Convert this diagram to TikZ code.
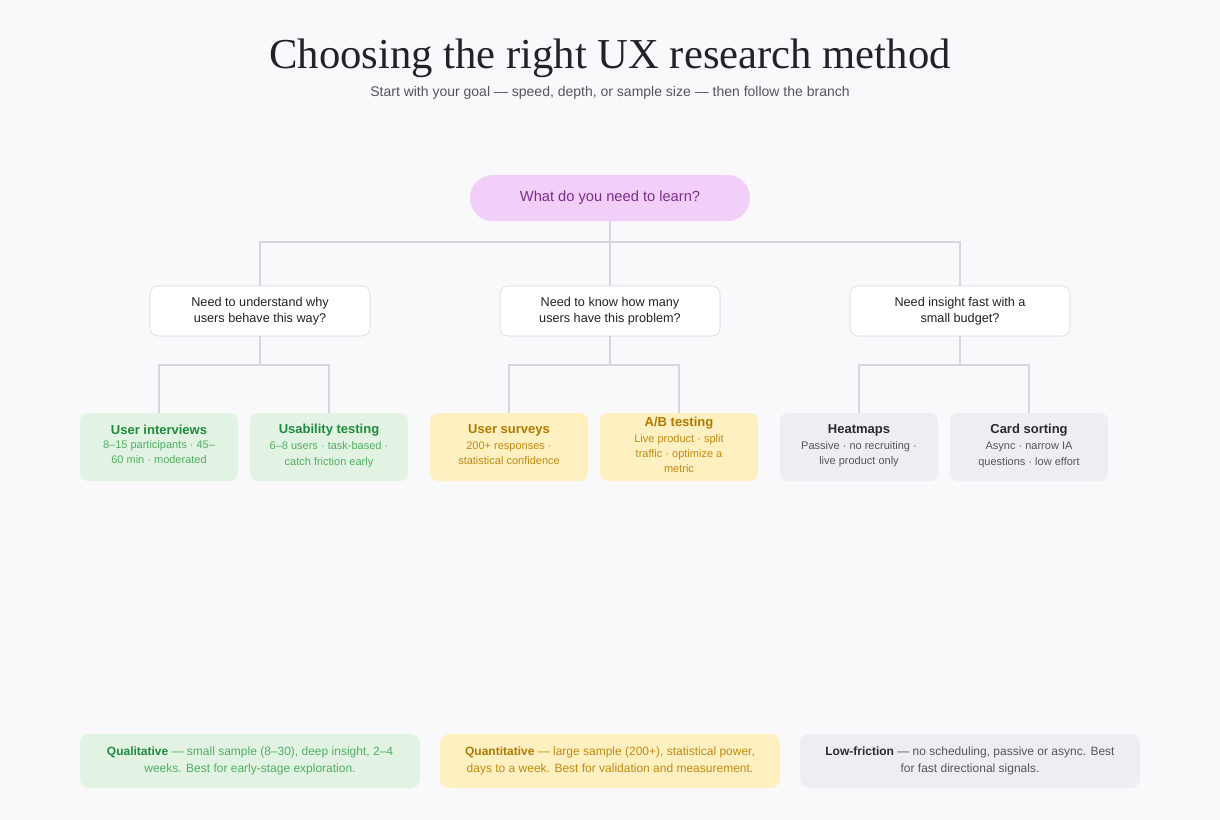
\documentclass[tikz,border=0pt]{standalone}
\usepackage{fontspec}
\setmainfont{Liberation Sans}
\newfontfamily\titlefont{Liberation Serif}
\begin{document}
\begin{tikzpicture}[x=0.75pt,y=-0.75pt,
  line/.style={draw=lineC,line width=1.2pt},
  q/.style={draw=qB,fill=white,rounded corners=6pt,minimum width=165pt,minimum height=37.5pt,align=center,font=\fontsize{9.5}{12}\selectfont,text=txt},
  leaf/.style={rounded corners=6pt,minimum width=118.5pt,minimum height=51pt,align=center,inner sep=0pt},
  leg/.style={rounded corners=7pt,minimum width=255pt,minimum height=40.5pt,align=center,inner sep=0pt,font=\fontsize{9}{12.5}\selectfont}]
\definecolor{bg}{HTML}{F9F9FB}
\definecolor{lineC}{HTML}{D6D6DE}
\definecolor{qB}{HTML}{D6D6DE}
\definecolor{txt}{HTML}{222228}
\definecolor{gF}{HTML}{E3F3E3}\definecolor{gT}{HTML}{1F8A3E}\definecolor{gS}{HTML}{4FAE63}
\definecolor{yF}{HTML}{FFF0C2}\definecolor{yT}{HTML}{B07A00}\definecolor{yS}{HTML}{C08A10}
\definecolor{kF}{HTML}{EEEDF1}\definecolor{kT}{HTML}{2A2A30}\definecolor{kS}{HTML}{55555D}
\definecolor{rF}{HTML}{F1CFF8}\definecolor{rT}{HTML}{7B2D8E}
\fill[bg] (0,0) rectangle (1220,820);
\node[font=\titlefont\fontsize{32}{36}\selectfont,text=txt] (title) at (610,58) {Choosing the right UX research method};
\node[font=\fontsize{10.5}{13}\selectfont,text=kS] (sub) at (610,93) {Start with your goal — speed, depth, or sample size — then follow the branch};
\node[fill=rF,rounded corners=17pt,minimum width=210pt,minimum height=34.5pt,text=rT,font=\fontsize{11}{13}\selectfont] (root) at (610,198) {What do you need to learn?};
\node[q] (q1) at (260,311) {Need to understand why\\users behave this way?};
\node[q] (q2) at (610,311) {Need to know how many\\users have this problem?};
\node[q] (q3) at (960,311) {Need insight fast with a\\small budget?};
\newcommand{\lf}[7]{\node[leaf,fill=#4] (#1) at (#2,447) {{\color{#5}\fontsize{9.75}{13}\selectfont\bfseries #3}\\[1pt]{\color{#6}\fontsize{8.25}{11.5}\selectfont\begin{tabular}{@{}c@{}}#7\end{tabular}}};}
\lf{l1}{159}{User interviews}{gF}{gT}{gS}{8–15 participants · 45–\\60 min · moderated}
\lf{l2}{329}{Usability testing}{gF}{gT}{gS}{6–8 users · task-based ·\\catch friction early}
\lf{l3}{509}{User surveys}{yF}{yT}{yS}{200+ responses ·\\statistical confidence}
\lf{l4}{679}{A/B testing}{yF}{yT}{yS}{Live product · split\\traffic · optimize a\\metric}
\lf{l5}{859}{Heatmaps}{kF}{kT}{kS}{Passive · no recruiting ·\\live product only}
\lf{l6}{1029}{Card sorting}{kF}{kT}{kS}{Async · narrow IA\\questions · low effort}
\coordinate (r1) at (610,242);
\draw[line] (root.south) -- (q2.north);
\draw[line] (q1.north) |- (r1) -| (q3.north);
\foreach \q/\a/\b in {q1/l1/l2,q2/l3/l4,q3/l5/l6}{
  \draw[line] (\q.south) -- ++(0,29) coordinate (m\q);
  \draw[line] (\a.north) |- (m\q) -| (\b.north);
}
\node[leg,fill=gF,text=gS] (g1) at (250,761) {{\color{gT}\bfseries Qualitative} — small sample (8–30), deep insight, 2–4\\weeks. Best for early-stage exploration.};
\node[leg,fill=yF,text=yS] (g2) at (610,761) {{\color{yT}\bfseries Quantitative} — large sample (200+), statistical power,\\days to a week. Best for validation and measurement.};
\node[leg,fill=kF,text=kS] (g3) at (970,761) {{\color{kT}\bfseries Low-friction} — no scheduling, passive or async. Best\\for fast directional signals.};
\end{tikzpicture}
\end{document}
